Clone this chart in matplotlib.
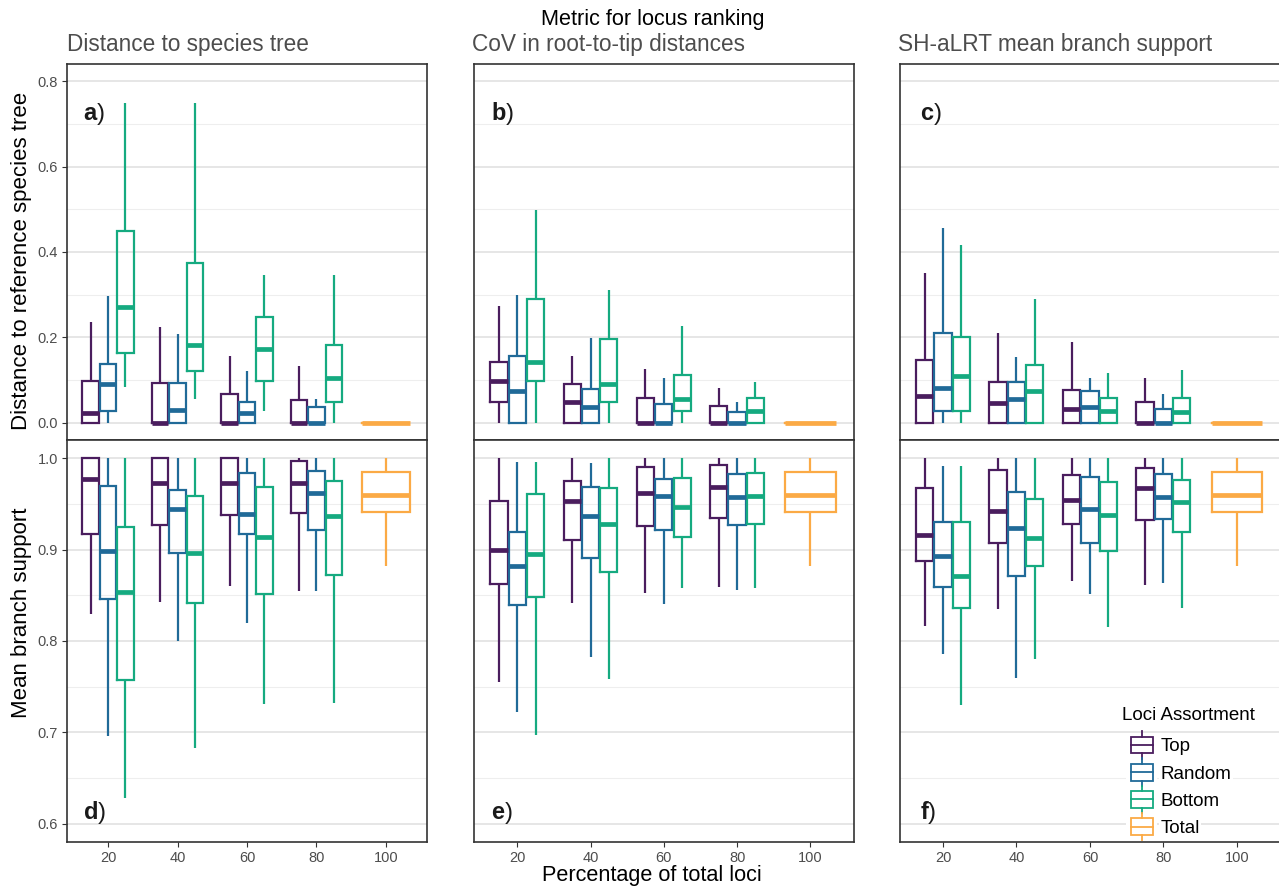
import matplotlib
matplotlib.use('Agg')
import matplotlib.pyplot as plt
from matplotlib.patches import Patch, Rectangle
from matplotlib.lines import Line2D
from matplotlib.legend_handler import HandlerBase
from matplotlib.ticker import MultipleLocator, FormatStrFormatter

plt.rcParams['font.family'] = ['Liberation Sans', 'DejaVu Sans']
plt.rcParams['mathtext.fontset'] = 'custom'
plt.rcParams['mathtext.rm'] = 'Liberation Sans'
plt.rcParams['mathtext.bf'] = 'Liberation Sans:bold'

# Data
percent = [20, 40, 60, 80]
series = ['Top', 'Random', 'Bottom']
colours = {'Top': '#4A1D5E', 'Random': '#206A98', 'Bottom': '#15AA80', 'Total': '#FBAA45'}
metric_titles = ['Distance to species tree', 'CoV in root-to-tip distances', 'SH-aLRT mean branch support']

# each box: (whisker low, Q1, median, Q3, whisker high), one per percentage 20/40/60/80
# top row: distance to reference species tree
a_top = [(0, 0, 0.023, 0.097, 0.235), (0, 0, 0, 0.093, 0.224), (0, 0, 0, 0.068, 0.156), (0, 0, 0, 0.053, 0.134)]
a_random = [(0, 0.027, 0.090, 0.137, 0.298), (0, 0, 0.030, 0.093, 0.208), (0, 0, 0.023, 0.048, 0.122), (0, 0, 0, 0.038, 0.055)]
a_bottom = [(0.084, 0.164, 0.272, 0.449, 0.749), (0.056, 0.122, 0.183, 0.375, 0.749), (0.027, 0.099, 0.174, 0.248, 0.347), (0, 0.048, 0.104, 0.183, 0.347)]

b_top = [(0, 0.048, 0.098, 0.143, 0.273), (0, 0, 0.050, 0.091, 0.156), (0, 0, 0, 0.058, 0.126), (0, 0, 0, 0.040, 0.082)]
b_random = [(0, 0, 0.075, 0.156, 0.299), (0, 0, 0.038, 0.079, 0.198), (0, 0, 0, 0.045, 0.104), (0, 0, 0, 0.026, 0.048)]
b_bottom = [(0, 0.097, 0.143, 0.291, 0.498), (0, 0.048, 0.091, 0.196, 0.312), (0, 0.029, 0.056, 0.111, 0.226), (0, 0, 0.029, 0.058, 0.095)]

c_top = [(0, 0, 0.062, 0.147, 0.350), (0, 0, 0.046, 0.096, 0.210), (0, 0, 0.033, 0.077, 0.190), (0, 0, 0, 0.048, 0.104)]
c_random = [(0, 0.029, 0.082, 0.210, 0.457), (0, 0, 0.056, 0.096, 0.155), (0, 0, 0.038, 0.074, 0.106), (0, 0, 0, 0.033, 0.068)]
c_bottom = [(0, 0.029, 0.109, 0.200, 0.416), (0, 0, 0.074, 0.135, 0.290), (0, 0, 0.029, 0.058, 0.117), (0, 0, 0.025, 0.058, 0.124)]

total_distance = (0, 0, 0, 0, 0)

# bottom row: mean branch support
d_top = [(0.830, 0.917, 0.977, 1.0, 1.0), (0.843, 0.927, 0.973, 1.0, 1.0), (0.860, 0.938, 0.973, 1.0, 1.0), (0.855, 0.940, 0.973, 0.997, 1.0)]
d_random = [(0.696, 0.846, 0.899, 0.970, 1.0), (0.800, 0.896, 0.944, 0.965, 1.0), (0.820, 0.917, 0.939, 0.984, 1.0), (0.855, 0.922, 0.962, 0.986, 1.0)]
d_bottom = [(0.628, 0.757, 0.854, 0.925, 1.0), (0.683, 0.842, 0.896, 0.959, 1.0), (0.731, 0.851, 0.914, 0.969, 1.0), (0.732, 0.872, 0.937, 0.975, 1.0)]

e_top = [(0.755, 0.862, 0.900, 0.953, 1.0), (0.842, 0.911, 0.953, 0.975, 1.0), (0.853, 0.926, 0.962, 0.990, 1.0), (0.859, 0.935, 0.969, 0.993, 1.0)]
e_random = [(0.722, 0.839, 0.882, 0.919, 0.996), (0.782, 0.891, 0.937, 0.969, 0.995), (0.840, 0.922, 0.959, 0.977, 1.0), (0.856, 0.927, 0.958, 0.983, 1.0)]
e_bottom = [(0.697, 0.848, 0.895, 0.961, 0.996), (0.758, 0.876, 0.928, 0.967, 1.0), (0.858, 0.914, 0.947, 0.978, 1.0), (0.858, 0.928, 0.959, 0.984, 1.0)]

f_top = [(0.816, 0.888, 0.916, 0.967, 1.0), (0.835, 0.907, 0.942, 0.987, 1.0), (0.866, 0.928, 0.954, 0.982, 1.0), (0.861, 0.932, 0.968, 0.989, 1.0)]
f_random = [(0.786, 0.859, 0.893, 0.930, 0.991), (0.760, 0.871, 0.924, 0.963, 1.0), (0.851, 0.907, 0.944, 0.980, 1.0), (0.864, 0.933, 0.958, 0.983, 1.0)]
f_bottom = [(0.730, 0.836, 0.871, 0.930, 0.992), (0.780, 0.882, 0.913, 0.955, 1.0), (0.815, 0.898, 0.938, 0.974, 1.0), (0.836, 0.919, 0.952, 0.976, 1.0)]

total_support = (0.882, 0.941, 0.960, 0.985, 1.0)

panels = [
    ('a', [a_top, a_random, a_bottom], total_distance),
    ('b', [b_top, b_random, b_bottom], total_distance),
    ('c', [c_top, c_random, c_bottom], total_distance),
    ('d', [d_top, d_random, d_bottom], total_support),
    ('e', [e_top, e_random, e_bottom], total_support),
    ('f', [f_top, f_random, f_bottom], total_support),
]


def to_stats(s):
    return dict(whislo=s[0], q1=s[1], med=s[2], q3=s[3], whishi=s[4])


def draw_box(ax, stats, pos, width, c):
    ax.bxp(stats, positions=pos, widths=width, showfliers=False, showcaps=False,
           manage_ticks=False,
           boxprops=dict(color=c, lw=1.6, solid_joinstyle='miter'),
           whiskerprops=dict(color=c, lw=1.6, solid_capstyle='butt'),
           medianprops=dict(color=c, lw=3.4, solid_capstyle='butt'))


class BoxHandler(HandlerBase):
    # legend key drawn as a small boxplot
    def create_artists(self, legend, orig_handle, xdescent, ydescent, width, height, fontsize, trans):
        c = orig_handle.get_edgecolor()
        gw = width * 0.72
        x0 = -xdescent + width - gw
        cy = -ydescent + height / 2
        bg = Rectangle((x0 - 3, cy - height * 0.72), gw + 6, height * 1.44,
                       facecolor='white', edgecolor='none', transform=trans)
        box = Rectangle((x0, cy - height * 0.5), gw, height,
                        facecolor='none', edgecolor=c, lw=1.3, transform=trans)
        med = Line2D([x0, x0 + gw], [cy, cy], color=c, lw=1.3, transform=trans)
        w1 = Line2D([x0 + gw / 2] * 2, [cy + height * 0.5, cy + height * 0.82], color=c, lw=1.3, transform=trans)
        w2 = Line2D([x0 + gw / 2] * 2, [cy - height * 0.5, cy - height * 0.82], color=c, lw=1.3, transform=trans)
        return [bg, box, med, w1, w2]


W, H = 1279, 886
fig = plt.figure(figsize=(W / 100, H / 100), dpi=100)
cols = [(67, 427), (474, 853.6), (899.6, 1280.3)]
rows = [(64, 440), (440, 842)]

axes = []
for k, (letter, groups, total) in enumerate(panels):
    row, col = divmod(k, 3)
    x0, x1 = cols[col]
    y0, y1 = rows[row]
    ax = fig.add_axes([x0 / W, 1 - y1 / H, (x1 - x0) / W, (y1 - y0) / H])
    axes.append(ax)

    for i, name in enumerate(series):
        stats = [to_stats(s) for s in groups[i]]
        pos = [p + (i - 1) * 5 for p in percent]
        draw_box(ax, stats, pos, 4.7, colours[name])
    draw_box(ax, [to_stats(total)], [100], 13.8, colours['Total'])

    ax.set_xlim(8.2, 111.8)
    if row == 0:
        ax.set_ylim(-0.04, 0.84)
        ax.yaxis.set_major_locator(MultipleLocator(0.2))
        ax.yaxis.set_minor_locator(MultipleLocator(0.1))
    else:
        ax.set_ylim(0.58, 1.02)
        ax.yaxis.set_major_locator(MultipleLocator(0.1))
        ax.yaxis.set_minor_locator(MultipleLocator(0.05))
    ax.set_xticks([20, 40, 60, 80, 100])

    ax.set_axisbelow(True)
    ax.grid(axis='y', which='major', color='#E6E6E6', lw=1.4)
    ax.grid(axis='y', which='minor', color='#EEEEEE', lw=0.8)
    for sp in ax.spines.values():
        sp.set_color('#333333')
        sp.set_linewidth(1.2)
    ax.tick_params(which='minor', length=0)
    ax.tick_params(which='major', length=3.5, width=0.8, color='#333333',
                   labelcolor='#4D4D4D', labelsize=10.5, pad=3)
    ax.tick_params(axis='y', left=(col == 0), labelleft=(col == 0))
    ax.tick_params(axis='x', bottom=(row == 1), labelbottom=(row == 1))
    ax.yaxis.set_major_formatter(FormatStrFormatter('%.1f'))

    ypos = 0.868 if row == 0 else 0.073
    ax.text(0.045 if col < 2 else 0.053, ypos, r'$\mathbf{' + letter + '}$)', transform=ax.transAxes,
            fontsize=17, va='center', ha='left', color='#1A1A1A')

# titles and axis labels
fig.text(653 / W, 1 - 19 / H, 'Metric for locus ranking', fontsize=15.6, ha='center', va='center')
for xt, t in zip([67, 472, 898], metric_titles):
    fig.text(xt / W, 1 - 45 / H, t, fontsize=16.3, color='#4D4D4D', ha='left', va='center')
fig.text(22 / W, 1 - 261 / H, 'Distance to reference species tree', fontsize=16, rotation=90,
         ha='center', va='center')
fig.text(22 / W, 1 - 613 / H, 'Mean branch support', fontsize=16, rotation=90,
         ha='center', va='center')
fig.text(652 / W, 1 - 875 / H, 'Percentage of total loci', fontsize=15.6, ha='center', va='center')

# legend
handles = [Patch(edgecolor=colours[n], facecolor='none') for n in series + ['Total']]
leg = axes[5].legend(handles, series + ['Total'], title='Loci Assortment',
                     handler_map={Patch: BoxHandler()}, loc='upper left',
                     bbox_to_anchor=(1122 / W, 1 - 707 / H), bbox_transform=fig.transFigure,
                     frameon=False, fontsize=13.5, title_fontsize=13.5, alignment='left',
                     handlelength=1.65, handleheight=1.0, handletextpad=0.4,
                     labelspacing=0.45, borderpad=0, borderaxespad=0)
leg._legend_box.sep = 9
for txt in leg.get_texts():
    txt.set_bbox(dict(facecolor='white', edgecolor='none', pad=1))

fig.savefig('out.png', dpi=100)
